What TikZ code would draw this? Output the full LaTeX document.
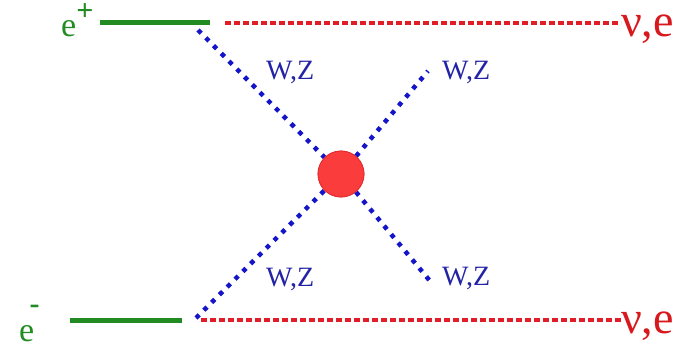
\documentclass[tikz,border=0pt]{standalone}
\usepackage{fontspec}
\setmainfont{Liberation Serif}
\newfontfamily\lserif{Liberation Serif}
\definecolor{egreen}{RGB}{34,140,34}
\definecolor{bdot}{RGB}{20,20,200}
\definecolor{wzblue}{RGB}{35,35,165}
\definecolor{rdash}{RGB}{225,30,40}
\definecolor{nured}{RGB}{215,25,30}
\definecolor{blobred}{RGB}{250,60,60}
\definecolor{blobedge}{RGB}{225,45,45}
\begin{document}
\begin{tikzpicture}[x=1pt,y=-1pt,
  fermion/.style={draw=egreen, line width=5pt},
  boson/.style={draw=bdot, line width=4.5pt, dash pattern=on 4.5pt off 6.5pt},
  neut/.style={draw=rdash, line width=3.5pt, dash pattern=on 6pt off 3pt},
  wz/.style={text=wzblue, font=\lserif\fontsize{28}{28}\selectfont, inner sep=0pt, anchor=base west},
  nulab/.style={text=nured, font=\lserif\fontsize{46}{46}\selectfont, inner sep=0pt, anchor=base west},
  elab/.style={text=egreen, font=\lserif\fontsize{34}{34}\selectfont, inner sep=0pt}]
\useasboundingbox (0,0) rectangle (688,345);
% labels
\node[elab, anchor=base west] (eplus) at (61,37) {e};
\node[text=egreen, font=\lserif\fontsize{30}{30}\selectfont\bfseries, inner sep=0pt] (plus) at (85,12) {+};
\node[elab, anchor=base west] (eminus) at (19,341) {e};
\node[text=egreen, font=\lserif\fontsize{30}{30}\selectfont\bfseries, inner sep=0pt] (minus) at (34.5,309) {-};
\node[nulab] (nutop) at (621,37) {ν,e};
\node[nulab] (nubot) at (621,333) {ν,e};
\node[wz] (wz1) at (266,80) {W,Z};
\node[wz] (wz2) at (442,80) {W,Z};
\node[wz] (wz3) at (266,286) {W,Z};
\node[wz] (wz4) at (442,285) {W,Z};
% blob
\node[circle, fill=blobred, draw=blobedge, line width=0.8pt, minimum size=46pt, inner sep=0pt] (c) at (341,174) {};
% endpoints
\coordinate (gt1) at (100,23);
\coordinate (gt2) at (210,23);
\coordinate (gb1) at (70,320);
\coordinate (gb2) at (182,320);
\coordinate (vt) at (198,30);
\coordinate (vb) at (196,318);
\coordinate (rt) at (225,23);
\coordinate (rb) at (201,320);
\coordinate (bt) at (428,71);
\coordinate (bb) at (430,281);
% lines
\draw[fermion] (gt1) -- (gt2);
\draw[fermion] (gb1) -- (gb2);
\draw[neut] (rt) -- (nutop.west |- rt);
\draw[neut] (rb) -- (nubot.west |- rb);
\draw[boson] (vt) -- (c);
\draw[boson] (vb) -- (c);
\draw[boson] (c) -- (bt);
\draw[boson] (c) -- (bb);
\node[circle, fill=blobred, draw=blobedge, line width=0.8pt, minimum size=46pt, inner sep=0pt] at (c) {};
\end{tikzpicture}
\end{document}
